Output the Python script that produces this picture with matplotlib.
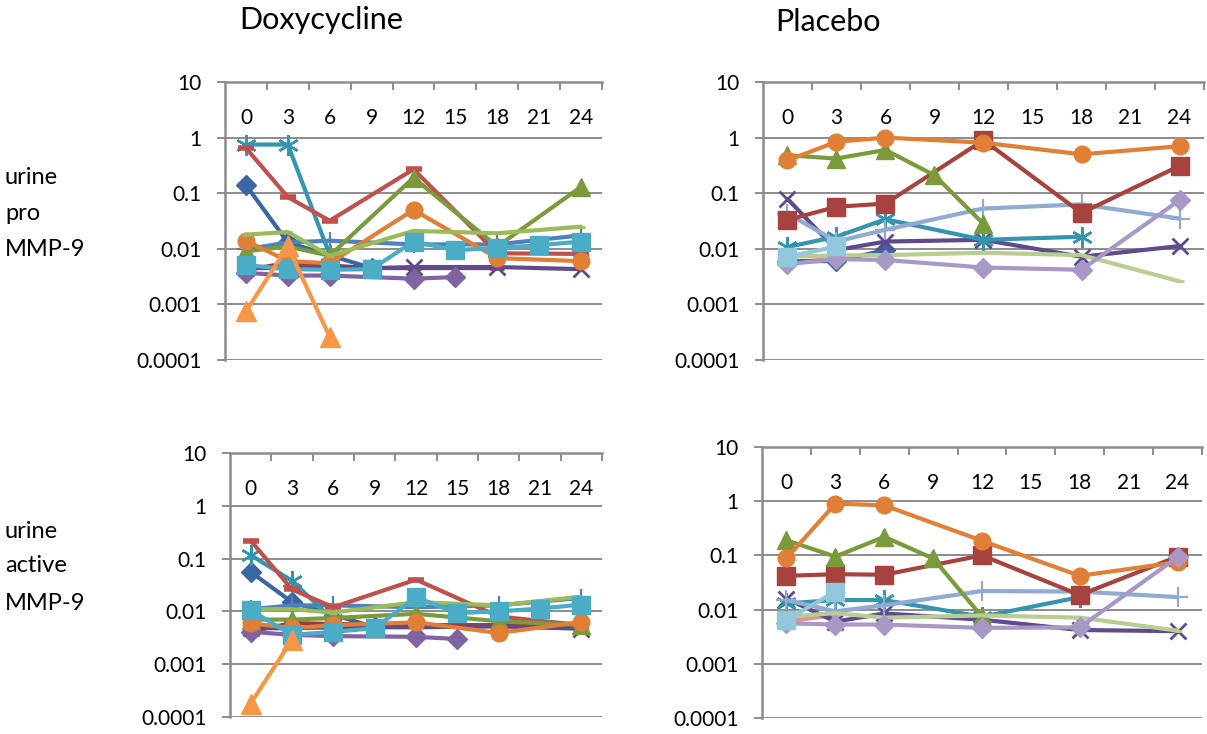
import matplotlib
matplotlib.use("Agg")
import matplotlib.pyplot as plt
from matplotlib.ticker import FixedLocator, FixedFormatter, NullLocator

plt.rcParams["font.family"] = ["Lato", "DejaVu Sans"]

# ---------------- data ----------------
times = [0, 3, 6, 9, 12, 15, 18, 21, 24]
time_labels = [str(t) for t in times]
y_ticks = [0.0001, 0.001, 0.01, 0.1, 1, 10]
y_tick_labels = ["0.0001", "0.001", "0.01", "0.1", "1", "10"]
panel_titles = ["Doxycycline", "Placebo"]
row_labels = [["urine", "pro", "MMP-9"], ["urine", "active", "MMP-9"]]
N = None

# Doxycycline - urine pro MMP-9
dox_pro_dkred = [0.0042, 0.0055, 0.005, 0.0045, 0.0045, N, 0.0045, N, N]
dox_pro_dkpurple = [0.0045, 0.0045, 0.0045, 0.0045, 0.0047, N, 0.0047, N, 0.0043]
dox_pro_purple = [0.0037, 0.0033, 0.0033, N, 0.0029, 0.0031, N, N, N]
dox_pro_dkblue = [0.14, 0.013, N, 0.0045, N, N, N, N, N]
dox_pro_blue = [0.0098, 0.013, 0.014, N, 0.012, N, 0.012, N, 0.0175]
dox_pro_teal = [0.75, 0.75, 0.0078, N, N, N, N, N, N]
dox_pro_red = [0.65, 0.085, 0.032, N, 0.27, N, 0.0083, N, 0.0081]
dox_pro_olive = [0.009, 0.011, 0.0075, N, 0.19, N, 0.011, N, 0.13]
dox_pro_orange = [0.014, 0.006, 0.0055, N, 0.05, N, 0.0068, N, 0.006]
dox_pro_ltgreen = [0.018, 0.02, 0.0075, N, 0.021, N, 0.019, N, 0.025]
dox_pro_ltblue = [0.0051, 0.0043, 0.0042, 0.0043, 0.0135, 0.0095, 0.0103, 0.0116, 0.0135]
dox_pro_ltorange = [0.00075, 0.011, 0.00026, N, N, N, N, N, N]

# Placebo - urine pro MMP-9
pla_pro_pink = [0.0055, 0.0068, N, N, N, N, N, N, N]
pla_pro_dkblue = [0.006, 0.006, 0.0095, N, N, N, N, N, N]
pla_pro_dkpurple = [0.079, 0.0095, 0.0135, N, 0.0145, N, 0.0072, N, 0.0112]
pla_pro_teal = [0.0108, 0.0165, 0.034, N, 0.0145, N, 0.0165, N, N]
pla_pro_steel = [0.043, 0.0135, 0.022, N, 0.053, N, 0.063, N, 0.035]
pla_pro_dkred = [0.033, 0.057, 0.065, N, 0.9, N, 0.044, N, 0.31]
pla_pro_olive = [0.48, 0.42, 0.6, 0.21, 0.028, N, N, N, N]
pla_pro_orange = [0.39, 0.84, 1.0, N, 0.81, N, 0.5, N, 0.7]
pla_pro_palegreen = [0.0072, 0.0076, 0.0077, N, 0.0085, N, 0.0077, N, 0.0026]
pla_pro_ltpurple = [0.0053, 0.0065, 0.0063, N, 0.0046, N, 0.0042, N, 0.075]
pla_pro_paleblue = [0.0072, 0.011, N, N, N, N, N, N, N]

# Doxycycline - urine active MMP-9
dox_act_dkred = [0.0042, 0.006, 0.0058, N, 0.0055, N, 0.0055, N, 0.005]
dox_act_dkpurple = [0.0048, 0.0048, 0.005, N, 0.005, N, 0.0052, N, 0.0047]
dox_act_purple = [0.0041, 0.0036, 0.0034, N, 0.0033, 0.003, N, N, N]
dox_act_dkblue = [0.056, 0.015, N, 0.005, N, N, N, N, N]
dox_act_blue = [0.011, 0.013, 0.013, N, 0.012, N, 0.013, N, 0.018]
dox_act_teal = [0.117, 0.038, 0.0068, N, N, N, N, N, N]
dox_act_red = [0.22, 0.026, 0.012, N, 0.04, N, 0.008, N, 0.0055]
dox_act_olive = [0.007, 0.007, 0.0075, N, 0.009, N, 0.0065, N, 0.0055]
dox_act_orange = [0.006, 0.0048, 0.0055, N, 0.0062, N, 0.0039, N, 0.0063]
dox_act_ltgreen = [0.011, 0.011, 0.0095, N, 0.015, N, 0.013, N, 0.019]
dox_act_ltblue = [0.0105, 0.0036, 0.0041, 0.0048, 0.0185, 0.0093, 0.01, 0.0113, 0.0135]
dox_act_ltorange = [0.00018, 0.0029, N, N, N, N, N, N, N]

# Placebo - urine active MMP-9
pla_act_pink = [0.006, 0.008, N, N, N, N, N, N, N]
pla_act_dkpurple = [0.016, 0.006, 0.0085, N, 0.0065, N, 0.0042, N, 0.004]
pla_act_teal = [0.013, 0.015, 0.015, N, 0.0074, N, 0.017, N, N]
pla_act_steel = [0.015, 0.0093, 0.012, N, 0.022, N, 0.0215, N, 0.017]
pla_act_dkred = [0.042, 0.045, 0.044, N, 0.1, N, 0.0186, N, 0.095]
pla_act_olive = [0.19, 0.095, 0.22, 0.088, 0.0074, N, N, N, N]
pla_act_orange = [0.088, 0.9, 0.84, N, 0.186, N, 0.042, N, 0.075]
pla_act_palegreen = [0.0074, 0.0086, 0.0071, N, 0.0078, N, 0.0071, N, 0.0041]
pla_act_ltpurple = [0.0056, 0.0053, 0.0053, N, 0.0046, N, 0.0047, N, 0.093]
pla_act_paleblue = [0.0064, 0.0215, N, N, N, N, N, N, N]

# ---------------- styles ----------------
STAR = (6, 2, 0)
STYLE = {
    "dkred":      dict(color="#9E3B38", marker="_", ms=10, mew=3.5),
    "dkredsq":    dict(color="#A7423F", marker="s", ms=12.5, mew=1),
    "dkpurple":   dict(color="#604A8E", marker="x", ms=11, mew=2),
    "purple":     dict(color="#8064A2", marker="D", ms=10, mew=1),
    "dkblue":     dict(color="#3A67A3", marker="D", ms=10, mew=1),
    "blue":       dict(color="#4F81BD", marker="+", ms=13, mew=1.6),
    "teal":       dict(color="#3496AE", marker=STAR, ms=15, mew=1.8),
    "red":        dict(color="#C0504D", marker="_", ms=11, mew=4),
    "olive":      dict(color="#7A9A3C", marker="^", ms=13, mew=1),
    "orange":     dict(color="#E07F35", marker="o", ms=12, mew=1),
    "ltgreen":    dict(color="#9BBB59", marker="_", ms=6, mew=2),
    "ltblue":     dict(color="#4BACC6", marker="s", ms=12.5, mew=1),
    "ltorange":   dict(color="#F79646", marker="^", ms=14, mew=1),
    "pink":       dict(color="#D99694", marker="_", ms=6, mew=2),
    "steel":      dict(color="#90AAD2", marker="+", ms=14, mew=1.6),
    "palegreen":  dict(color="#B7CD91", marker="_", ms=6, mew=2),
    "ltpurple":   dict(color="#A898C6", marker="D", ms=10, mew=1),
    "paleblue":   dict(color="#92C6DA", marker="s", ms=12.5, mew=1),
}

panels = [
    # (row, col, series list in drawing order)
    (0, 0, [("dkred", dox_pro_dkred), ("dkpurple", dox_pro_dkpurple), ("purple", dox_pro_purple),
            ("dkblue", dox_pro_dkblue), ("blue", dox_pro_blue), ("teal", dox_pro_teal),
            ("red", dox_pro_red), ("olive", dox_pro_olive), ("orange", dox_pro_orange),
            ("ltgreen", dox_pro_ltgreen), ("ltblue", dox_pro_ltblue), ("ltorange", dox_pro_ltorange)]),
    (0, 1, [("pink", pla_pro_pink), ("dkblue", pla_pro_dkblue), ("dkpurple", pla_pro_dkpurple),
            ("teal", pla_pro_teal), ("steel", pla_pro_steel), ("dkredsq", pla_pro_dkred),
            ("olive", pla_pro_olive), ("orange", pla_pro_orange), ("palegreen", pla_pro_palegreen),
            ("ltpurple", pla_pro_ltpurple), ("paleblue", pla_pro_paleblue)]),
    (1, 0, [("dkred", dox_act_dkred), ("dkpurple", dox_act_dkpurple), ("purple", dox_act_purple),
            ("dkblue", dox_act_dkblue), ("blue", dox_act_blue), ("teal", dox_act_teal),
            ("red", dox_act_red), ("olive", dox_act_olive), ("orange", dox_act_orange),
            ("ltgreen", dox_act_ltgreen), ("ltblue", dox_act_ltblue), ("ltorange", dox_act_ltorange)]),
    (1, 1, [("pink", pla_act_pink), ("dkpurple", pla_act_dkpurple), ("teal", pla_act_teal),
            ("steel", pla_act_steel), ("dkredsq", pla_act_dkred), ("olive", pla_act_olive),
            ("orange", pla_act_orange), ("palegreen", pla_act_palegreen),
            ("ltpurple", pla_act_ltpurple), ("paleblue", pla_act_paleblue)]),
]

W, H = 1207, 734
# axes boxes in pixels: left, top, right, bottom
BOX = {
    (0, 0): (225, 82, 602, 360),
    (0, 1): (763, 82, 1204, 360),
    (1, 0): (230, 453, 602, 717),
    (1, 1): (762, 447, 1202, 718),
}

GRID = "#8C8C8C"
fig = plt.figure(figsize=(W / 100, H / 100), dpi=100)
fig.patch.set_facecolor("white")

for row, col, series in panels:
    l, t, r, b = BOX[(row, col)]
    ax = fig.add_axes([l / W, 1 - b / H, (r - l) / W, (b - t) / H])
    ax.set_yscale("log")
    ax.set_ylim(0.0001, 10)
    ax.set_xlim(-0.5, len(times) - 0.5)
    for key, vals in series:
        st = STYLE[key]
        xs = [i for i, v in enumerate(vals) if v is not None]
        ys = [v for v in vals if v is not None]
        ax.plot(xs, ys, color=st["color"], lw=3.0, marker=st["marker"],
                ms=st["ms"], mew=st["mew"], mec=st["color"], mfc=st["color"],
                solid_joinstyle="round", solid_capstyle="round", clip_on=False, zorder=3)
    # y axis
    ax.yaxis.set_major_locator(FixedLocator(y_ticks))
    ax.yaxis.set_major_formatter(FixedFormatter(y_tick_labels))
    ax.yaxis.set_minor_locator(NullLocator())
    ax.tick_params(axis="y", which="major", direction="out", length=6, width=1.4,
                   color=GRID, labelsize=15, pad=11, labelcolor="black")
    ax.grid(axis="y", which="major", color=GRID, lw=1.4, zorder=1)
    # x axis (category axis on top, labels inside)
    ax.xaxis.tick_top()
    ax.xaxis.set_major_locator(FixedLocator(list(range(len(times)))))
    ax.xaxis.set_major_formatter(FixedFormatter(time_labels))
    ax.xaxis.set_minor_locator(FixedLocator([i + 0.5 for i in range(len(times))]))
    ax.tick_params(axis="x", which="major", top=True, bottom=False, labeltop=True,
                   labelbottom=False, length=0, labelsize=15, pad=-33, labelcolor="black")
    ax.tick_params(axis="x", which="minor", top=True, bottom=False, direction="in",
                   length=6, width=1.4, color=GRID)
    for side in ("right", "bottom"):
        ax.spines[side].set_visible(False)
    for side in ("left", "top"):
        ax.spines[side].set_color(GRID)
        ax.spines[side].set_linewidth(1.8)
    ax.set_axisbelow(True)
    ax.set_facecolor("none")

# panel titles
fig.text(321 / W, 1 - 20 / H, panel_titles[0], fontsize=22, ha="center", va="center")
fig.text(828 / W, 1 - 22 / H, panel_titles[1], fontsize=22, ha="center", va="center")

# row labels
row_y = [[178, 213, 250], [531, 566, 603]]
for labels, ys in zip(row_labels, row_y):
    for txt, yy in zip(labels, ys):
        fig.text(5 / W, 1 - yy / H, txt, fontsize=17, ha="left", va="center")

fig.savefig("out.png", dpi=100)
